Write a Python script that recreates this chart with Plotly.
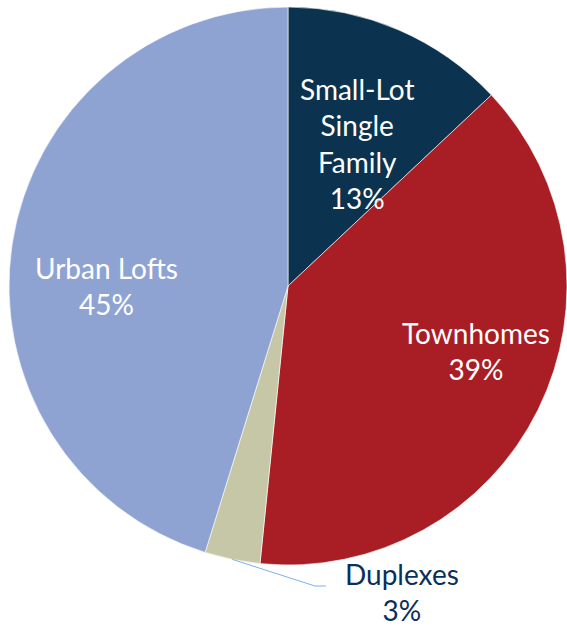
import math
import plotly.graph_objects as go

# ---- data ----
categories = ["Small-Lot<br>Single<br>Family", "Townhomes", "Duplexes", "Urban Lofts"]
values = [13.0, 38.6, 3.2, 45.2]
colors = ["#0B3350", "#A91E24", "#C6C7A7", "#8FA3D3"]

# ---- layout geometry (pixels) ----
W, H = 567, 627
CX, CY, R = 288, 286, 279  # pie centre / radius in pixels (from top-left)

def px(x):
    return x / W

def py(y):
    return 1 - y / H

fig = go.Figure(go.Pie(
    labels=categories,
    values=values,
    sort=False,
    direction="clockwise",
    rotation=0,
    marker=dict(colors=colors, line=dict(color="white", width=0.6)),
    textinfo="none",
    hoverinfo="label+percent",
    showlegend=False,
    domain=dict(x=[px(CX - R), px(CX + R)], y=[py(CY + R), py(CY - R)]),
))

total = sum(values)
pct = [round(v / total * 100) for v in values]

# label placement (pixel centres), kept separate from the data
label_pos = [(357, 144), (476, 351), (402, 592), (106, 286)]
label_color = ["white", "white", "#0B2F5B", "white"]

font_family = "Lato, 'Liberation Sans', sans-serif"
for cat, p, (lx, ly), col in zip(categories, pct, label_pos, label_color):
    fig.add_annotation(
        x=px(lx), y=py(ly), xref="paper", yref="paper",
        text=f"{cat}<br>{p}%", showarrow=False,
        font=dict(family=font_family, size=28, color=col),
        xanchor="center", yanchor="middle", align="center",
    )

# leader line for the small Duplexes slice, starting at its mid-angle on the rim
cum = sum(values[:2]) + values[2] / 2
ang = cum / total * 2 * math.pi
sx = CX + R * math.sin(ang)
sy = CY - R * math.cos(ang)
elbow = (315, 586)
end = (326, 586)
fig.add_shape(
    type="path", xref="paper", yref="paper",
    path=f"M {px(sx)},{py(sy)} L {px(elbow[0])},{py(elbow[1])} L {px(end[0])},{py(end[1])}",
    line=dict(color="#7FAEEF", width=1),
)

fig.update_layout(
    width=W, height=H,
    margin=dict(l=0, r=0, t=0, b=0),
    paper_bgcolor="white",
    plot_bgcolor="white",
)

fig.write_html(
    "out.html",
    config={"displayModeBar": False},
    post_script="document.body.style.margin='0';document.body.style.overflow='hidden';",
)
